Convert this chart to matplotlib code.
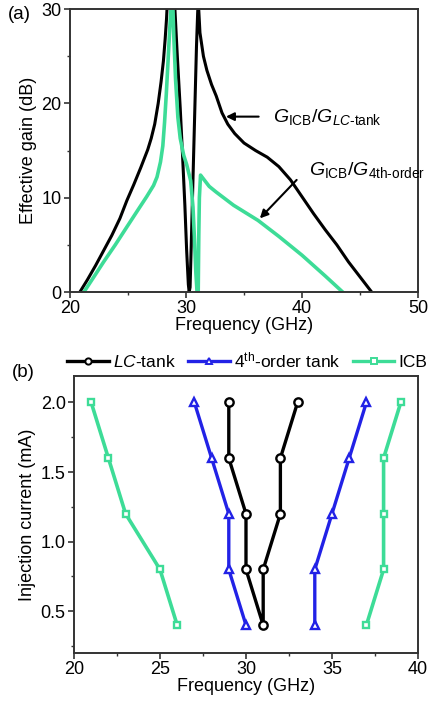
import numpy as np
import matplotlib.pyplot as plt
from matplotlib.ticker import MultipleLocator
from matplotlib.lines import Line2D

plt.rcParams['font.family'] = ['Liberation Sans', 'DejaVu Sans']
plt.rcParams['mathtext.fontset'] = 'custom'
plt.rcParams['mathtext.rm'] = 'Liberation Sans'
plt.rcParams['mathtext.it'] = 'Liberation Sans:italic'

GREEN = '#3DDC97'
BLUE = '#2222E6'
SPINE = '#333333'

# ---- panel (a): effective gain curves ----
lc_freq = [20.85, 21.5, 22.2, 22.9, 23.6, 24.3, 24.9, 25.5, 26.1, 26.7, 27.0,
           27.3, 27.6, 27.85, 28.05, 28.2, 28.32, 28.4, 29.0, 29.25, 29.5,
           29.7, 29.9, 30.05, 30.2, 30.27, 30.35, 30.45, 30.6, 30.75, 30.9,
           31.0, 31.05, 31.2, 31.5, 31.8, 32.2, 32.6, 33.1, 33.6, 34.2, 35.0,
           36.0, 37.0, 38.0, 39.0, 40.0, 41.0, 42.0, 43.0, 44.0, 45.0, 46.0]
lc_gain = [0, 1.3, 2.8, 4.4, 6.0, 7.8, 9.7, 11.4, 13.2, 15.1, 16.3,
           17.8, 20.0, 22.3, 24.5, 26.8, 29, 31, 31, 25, 19.5,
           14.5, 9.2, 4.5, 0.8, 0, 0.5, 5, 12, 19, 26,
           29.5, 31, 27.5, 25, 23.5, 22, 20.8, 19, 17.8, 16.8, 15.8,
           15.0, 14.3, 13.3, 11.9, 10.1, 8.3, 6.6, 5.0, 3.2, 1.6, 0]

o4_freq = [21.2, 22.0, 22.9, 23.9, 24.9, 25.8, 26.6, 27.2, 27.5, 27.8, 28.0,
           28.15, 28.3, 28.45, 28.6, 28.75, 28.85, 28.95, 29.1, 29.3, 29.5,
           29.8, 30.06, 30.4, 30.6, 30.75, 30.85, 30.95, 31.05, 31.1, 31.15,
           31.25, 31.5, 32.0, 32.6, 34.1, 36.2, 38.0, 40.0, 42.0, 43.5]
o4_gain = [0, 1.5, 3.2, 5.0, 6.9, 8.6, 10.1, 11.3, 12.2, 13.8, 15.5,
           18, 21, 24.5, 28, 31, 31, 27, 22.5, 18.5, 16.3,
           14.5, 13.5, 11.8, 9, 5, 2, 0, 0, 6, 10,
           12.4, 12.0, 11.2, 10.6, 9.2, 7.6, 5.9, 3.9, 1.7, 0]

# ---- panel (b): injection locking range ----
lc_x = [29, 29, 30, 30, 31, 31, 32, 32, 33]
lc_i = [2.0, 1.6, 1.2, 0.8, 0.4, 0.8, 1.2, 1.6, 2.0]
t4_lo_x = [27, 28, 29, 29, 30]
t4_hi_x = [34, 34, 35, 36, 37]
icb_lo_x = [21, 22, 23, 25, 26]
icb_hi_x = [37, 38, 38, 38, 39]
cur_desc = [2.0, 1.6, 1.2, 0.8, 0.4]
cur_asc = [0.4, 0.8, 1.2, 1.6, 2.0]

fig = plt.figure(figsize=(4.34, 7.02), dpi=100)


def style_axes(ax):
    for s in ax.spines.values():
        s.set_color(SPINE)
        s.set_linewidth(1.4)
    ax.tick_params(which='both', direction='out', top=False, right=False,
                   color=SPINE, labelsize=13, pad=2)
    ax.tick_params(which='major', length=4, width=1.2)
    ax.tick_params(which='minor', length=2.5, width=1.0)


# panel (a)
ax1 = fig.add_axes([0.1613, 0.584, 0.802, 0.403])
ax1.plot(lc_freq, lc_gain, color='black', lw=2.2, solid_joinstyle='round')
ax1.plot(o4_freq, o4_gain, color=GREEN, lw=2.6, solid_joinstyle='round')
ax1.set_xlim(20, 50)
ax1.set_ylim(0, 30)
ax1.xaxis.set_major_locator(MultipleLocator(10))
ax1.xaxis.set_minor_locator(MultipleLocator(5))
ax1.yaxis.set_major_locator(MultipleLocator(10))
ax1.yaxis.set_minor_locator(MultipleLocator(5))
style_axes(ax1)
ax1.set_xlabel('Frequency (GHz)', fontsize=13, labelpad=0)
ax1.set_ylabel('Effective gain (dB)', fontsize=13, labelpad=3)

ax1.annotate('', xy=(33.2, 18.6), xytext=(36.5, 18.6),
             arrowprops=dict(arrowstyle='-|>', color='black', lw=1.5,
                             mutation_scale=12))
ax1.text(37.5, 18.6, r'$G_{\mathrm{ICB}}/G_{LC\text{-tank}}$', fontsize=14,
         va='center', ha='left')
ax1.annotate('', xy=(36.2, 7.6), xytext=(39.7, 12.1),
             arrowprops=dict(arrowstyle='-|>', color='black', lw=1.5,
                             mutation_scale=12))
ax1.text(40.6, 12.9, r'$G_{\mathrm{ICB}}/G_{\text{4th-order}}$', fontsize=14,
         va='center', ha='left')
fig.text(0.018, 0.979, '(a)', fontsize=13.5, va='center', ha='left')

# panel (b)
ax2 = fig.add_axes([0.1705, 0.0698, 0.7926, 0.3946])
mk = dict(markerfacecolor='white', markersize=6, markeredgewidth=1.7)
ax2.plot(lc_x, lc_i, '-o', color='black', lw=2.4, **mk)
ax2.plot(t4_lo_x, cur_desc, '-^', color=BLUE, lw=2.4, **mk)
ax2.plot(t4_hi_x, cur_asc, '-^', color=BLUE, lw=2.4, **mk)
ax2.plot(icb_lo_x, cur_desc, '-s', color=GREEN, lw=2.6,
         **dict(mk, markersize=5))
ax2.plot(icb_hi_x, cur_asc, '-s', color=GREEN, lw=2.6,
         **dict(mk, markersize=5))
ax2.set_xlim(20, 40)
ax2.set_ylim(0.2, 2.19)
ax2.xaxis.set_major_locator(MultipleLocator(5))
ax2.xaxis.set_minor_locator(MultipleLocator(2.5))
ax2.yaxis.set_major_locator(MultipleLocator(0.5))
ax2.yaxis.set_minor_locator(MultipleLocator(0.25))
ax2.yaxis.set_major_formatter(plt.FormatStrFormatter('%.1f'))
style_axes(ax2)
ax2.set_xlabel('Frequency (GHz)', fontsize=13, labelpad=0)
ax2.set_ylabel('Injection current (mA)', fontsize=13, labelpad=3)
fig.text(0.028, 0.469, '(b)', fontsize=13.5, va='center', ha='left')

lmk = dict(markerfacecolor='white', markersize=4.5, markeredgewidth=1.4, lw=2.4)
handles = [Line2D([], [], color='black', marker='o', **lmk),
           Line2D([], [], color=BLUE, marker='^', **lmk),
           Line2D([], [], color=GREEN, marker='s', **lmk)]
labels = [r'$LC$-tank', r'4$^{\mathrm{th}}$-order tank', 'ICB']
fig.legend(handles, labels, loc='center', bbox_to_anchor=(0.57, 0.487),
           ncol=3, frameon=False, fontsize=12.5, handlelength=2.4,
           handletextpad=0.25, columnspacing=0.7, borderpad=0)

fig.savefig('out.png', dpi=100)
